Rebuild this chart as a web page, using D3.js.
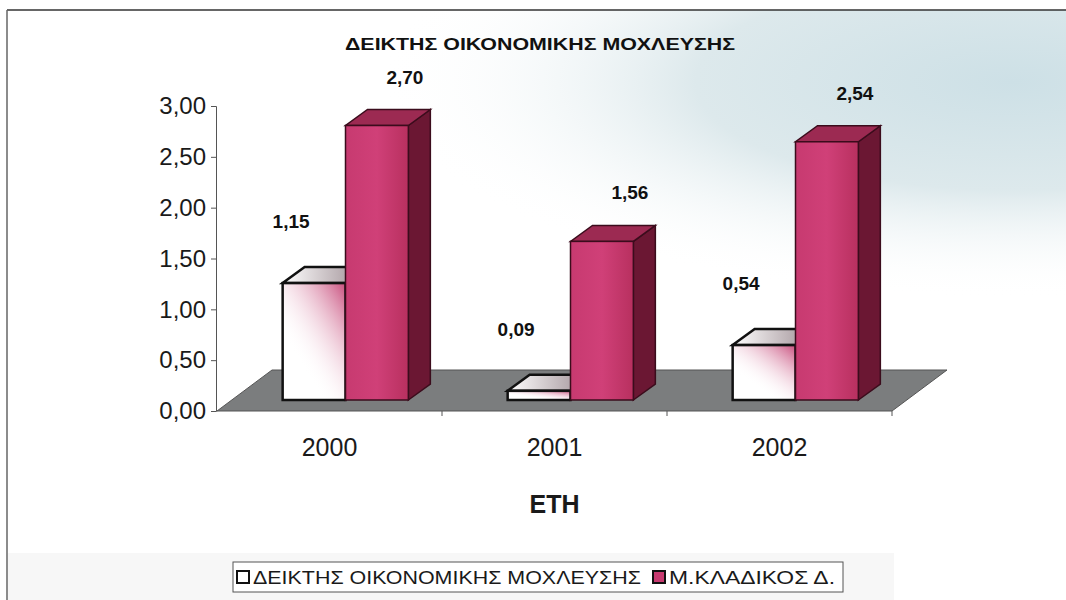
<!DOCTYPE html>
<html>
<head>
<meta charset="utf-8">
<script src="https://cdn.jsdelivr.net/npm/d3@7"></script>
<style>
  body { margin: 0; background: #fff; }
  svg { display: block; font-family: "Liberation Sans", Arial, sans-serif; }
</style>
</head>
<body>
<div id="chart"></div>
<script>
// data
const years = ["2000", "2001", "2002"];
const seriesNames = ["ΔΕΙΚΤΗΣ ΟΙΚΟΝΟΜΙΚΗΣ ΜΟΧΛΕΥΣΗΣ", "Μ.ΚΛΑΔΙΚΟΣ Δ."];
const leverage = [1.15, 0.09, 0.54];
const sectorAvg = [2.70, 1.56, 2.54];
const yTicks = [0, 0.5, 1, 1.5, 2, 2.5, 3];
const chartTitle = "ΔΕΙΚΤΗΣ ΟΙΚΟΝΟΜΙΚΗΣ ΜΟΧΛΕΥΣΗΣ";
const axisTitle = "ΕΤΗ";

const width = 1066, height = 600;
const comma = v => d3.format(".2f")(v).replace(".", ",");

const svg = d3.select("#chart").append("svg")
  .attr("width", width).attr("height", height);

const defs = svg.append("defs");
const sky = defs.append("radialGradient").attr("id", "sky")
  .attr("cx", 0.95).attr("cy", 0.2).attr("r", 0.6);
sky.append("stop").attr("offset", "0%").attr("stop-color", "#cde0e6");
sky.append("stop").attr("offset", "50%").attr("stop-color", "#dde9ec");
sky.append("stop").attr("offset", "100%").attr("stop-color", "#ffffff").attr("stop-opacity", 0);

const pinkShade = defs.append("linearGradient").attr("id", "pinkShade")
  .attr("x1", 1).attr("y1", 0).attr("x2", 0.35).attr("y2", 0.75);
pinkShade.append("stop").attr("offset", "0%").attr("stop-color", "#c23a6e").attr("stop-opacity", 0.9);
pinkShade.append("stop").attr("offset", "100%").attr("stop-color", "#ffffff").attr("stop-opacity", 0);

const redFront = defs.append("linearGradient").attr("id", "redFront")
  .attr("x1", 0).attr("x2", 1).attr("y1", 0).attr("y2", 0);
redFront.append("stop").attr("offset", "0%").attr("stop-color", "#c73a70");
redFront.append("stop").attr("offset", "50%").attr("stop-color", "#d04078");
redFront.append("stop").attr("offset", "100%").attr("stop-color", "#b8305f");

const whiteTop = defs.append("linearGradient").attr("id", "whiteTop")
  .attr("x1", 0).attr("x2", 1);
whiteTop.append("stop").attr("offset", "0%").attr("stop-color", "#ffffff");
whiteTop.append("stop").attr("offset", "100%").attr("stop-color", "#9a8a90");

// background
svg.append("rect").attr("width", width).attr("height", height).attr("fill", "#fff");
svg.append("rect").attr("x", 8).attr("y", 10).attr("width", width - 8).attr("height", 360)
  .attr("fill", "url(#sky)");
svg.append("rect").attr("x", 8).attr("y", 553).attr("width", 886).attr("height", 47).attr("fill", "#f7f7f7");
svg.append("line").attr("x1", 7).attr("x2", width).attr("y1", 10).attr("y2", 10)
  .attr("stroke", "#333").attr("stroke-width", 1.5);
svg.append("line").attr("x1", 7).attr("x2", 7).attr("y1", 10).attr("y2", height)
  .attr("stroke", "#666").attr("stroke-width", 1.5);

// scales
const y = d3.scaleLinear().domain([0, 3]).range([411, 106]);
const x0 = d3.scaleBand().domain(years).range([217, 892]);
const x1 = d3.scaleBand().domain(seriesNames).range([0, x0.bandwidth()]).paddingOuter(0.79);

// 3d projection settings
const floorDepth = {dx: 55, dy: -41};
const barOffset = {dx: 16, dy: -11};
const barDepth = {dx: 22, dy: -16};

// floor
const fl = x0.range();
svg.append("path")
  .attr("d", `M${fl[0]},${y(0)} L${fl[1]},${y(0)} L${fl[1] + floorDepth.dx},${y(0) + floorDepth.dy} L${fl[0] + floorDepth.dx},${y(0) + floorDepth.dy} Z`)
  .attr("fill", "#7b7d7e").attr("stroke", "#555").attr("stroke-width", 1);

// y axis
const yAxis = d3.axisLeft(y).tickValues(yTicks).tickFormat(comma).tickSize(5).tickPadding(5);
const gy = svg.append("g").attr("transform", "translate(216,0)").call(yAxis);
gy.select(".domain").attr("stroke", "#555");
gy.selectAll(".tick line").attr("stroke", "#555");
gy.selectAll("text").attr("font-size", 24).attr("fill", "#1a1a1a")
  .attr("font-family", "'Liberation Sans', Arial, sans-serif");

// category ticks on floor front edge
svg.append("g").selectAll("line")
  .data(years)
  .join("line")
    .attr("x1", d => x0(d) + x0.bandwidth())
    .attr("x2", d => x0(d) + x0.bandwidth())
    .attr("y1", y(0)).attr("y2", y(0) + 5)
    .attr("stroke", "#555");

// bars
const rows = years.map((yr, i) => ({year: yr, values: [
  {s: seriesNames[0], v: leverage[i]},
  {s: seriesNames[1], v: sectorAvg[i]}
]}));

const barsG = svg.append("g");
rows.forEach(r => {
  r.values.forEach((d, k) => {
    const xl = x0(r.year) + x1(d.s) + barOffset.dx;
    const xr = xl + x1.bandwidth();
    const yb = y(0) + barOffset.dy;
    const yt = y(d.v) + barOffset.dy;
    const g = barsG.append("g");
    const red = k === 1;
    const stroke = red ? "#3b0c1c" : "#111";
    // side
    g.append("path")
      .attr("d", `M${xr},${yb} L${xr + barDepth.dx},${yb + barDepth.dy} L${xr + barDepth.dx},${yt + barDepth.dy} L${xr},${yt} Z`)
      .attr("fill", red ? "#6b1733" : "#ddd").attr("stroke", stroke).attr("stroke-width", 1.5);
    // top
    g.append("path")
      .attr("d", `M${xl},${yt} L${xr},${yt} L${xr + barDepth.dx},${yt + barDepth.dy} L${xl + barDepth.dx},${yt + barDepth.dy} Z`)
      .attr("fill", red ? "#9c2a52" : "url(#whiteTop)").attr("stroke", stroke).attr("stroke-width", red ? 1.5 : 2.5);
    // front
    g.append("rect")
      .attr("x", xl).attr("y", yt).attr("width", xr - xl).attr("height", yb - yt)
      .attr("fill", red ? "url(#redFront)" : "#fff");
    if (!red) {
      g.append("rect")
        .attr("x", xl).attr("y", yt).attr("width", xr - xl).attr("height", yb - yt)
        .attr("fill", "url(#pinkShade)");
    }
    g.append("rect")
      .attr("x", xl).attr("y", yt).attr("width", xr - xl).attr("height", yb - yt)
      .attr("fill", "none").attr("stroke", stroke).attr("stroke-width", red ? 1.5 : 2.5);
  });
});

// data labels
const labelsG = svg.append("g").attr("font-size", 19).attr("font-weight", "bold")
  .attr("fill", "#111").attr("text-anchor", "middle");
rows.forEach(r => {
  r.values.forEach((d, k) => {
    const xc = x0(r.year) + x1(d.s) + barOffset.dx + x1.bandwidth() / 2;
    labelsG.append("text")
      .attr("x", k === 1 ? xc + 28 : xc - 23)
      .attr("y", y(d.v) + barOffset.dy - (k === 1 ? 42 : 55))
      .text(comma(d.v));
  });
});

// x labels
svg.append("g").selectAll("text")
  .data(years)
  .join("text")
    .attr("x", d => x0(d) + x0.bandwidth() / 2)
    .attr("y", 456)
    .attr("text-anchor", "middle")
    .attr("font-size", 25).attr("fill", "#1a1a1a")
    .text(d => d);

svg.append("text").attr("x", (fl[0] + fl[1]) / 2).attr("y", 513).attr("text-anchor", "middle")
  .attr("font-size", 25).attr("font-weight", "bold").attr("fill", "#1a1a1a")
  .text(axisTitle);

// title
svg.append("text").attr("x", 345).attr("y", 50)
  .attr("font-size", 17).attr("font-weight", "bold").attr("fill", "#111")
  .attr("textLength", 390).attr("lengthAdjust", "spacingAndGlyphs")
  .text(chartTitle);

// legend
const lg = svg.append("g").attr("transform", "translate(233,562)");
lg.append("rect").attr("width", 610).attr("height", 30)
  .attr("fill", "#fff").attr("stroke", "#555").attr("stroke-width", 1);
const legendX = [4, 420];
const legendLen = [388, 166];
seriesNames.forEach((s, i) => {
  lg.append("rect").attr("x", legendX[i]).attr("y", 9).attr("width", 12).attr("height", 12)
    .attr("fill", i === 1 ? "#c73a70" : "#fff").attr("stroke", "#111").attr("stroke-width", 2);
  lg.append("text").attr("x", legendX[i] + 16).attr("y", 22)
    .attr("font-size", 19).attr("fill", "#1a1a1a")
    .attr("textLength", legendLen[i]).attr("lengthAdjust", "spacingAndGlyphs")
    .text(s);
});
</script>
</body>
</html>
